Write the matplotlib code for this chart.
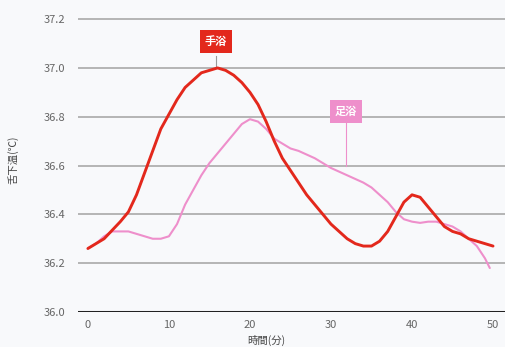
import numpy as np
import matplotlib
matplotlib.use("Agg")
import matplotlib.pyplot as plt

plt.rcParams['font.family'] = ['Noto Sans CJK JP', 'DejaVu Sans']

# 手浴 (hand bath)
hand_t = [0, 2, 4, 5, 6, 7, 8, 9, 10, 11, 12, 13, 14, 15, 16, 17, 18, 19, 20,
          21, 22, 23, 24, 25, 26, 27, 28, 29, 30, 31, 32, 33, 34, 35, 36, 37,
          38, 39, 40, 41, 42, 43, 44, 45, 46, 47, 48, 49, 50]
hand_temp = [36.26, 36.30, 36.37, 36.41, 36.48, 36.57, 36.66, 36.75, 36.81,
             36.87, 36.92, 36.95, 36.98, 36.99, 37.00, 36.99, 36.97, 36.94,
             36.90, 36.85, 36.78, 36.70, 36.63, 36.58, 36.53, 36.48, 36.44,
             36.40, 36.36, 36.33, 36.30, 36.28, 36.27, 36.27, 36.29, 36.33,
             36.39, 36.45, 36.48, 36.47, 36.43, 36.39, 36.35, 36.33, 36.32,
             36.30, 36.29, 36.28, 36.27]

# 足浴 (foot bath)
foot_t = [0, 1, 2, 3, 4, 5, 6, 7, 8, 9, 10, 11, 12, 13, 14, 15, 16, 17, 18,
          19, 20, 21, 22, 23, 24, 25, 26, 28, 30, 32, 34, 35, 36, 37, 38, 39,
          40, 41, 42, 43, 44, 45, 46, 47, 48, 49, 49.6]
foot_temp = [36.26, 36.28, 36.31, 36.33, 36.33, 36.33, 36.32, 36.31, 36.30,
             36.30, 36.31, 36.36, 36.44, 36.50, 36.56, 36.61, 36.65, 36.69,
             36.73, 36.77, 36.79, 36.78, 36.75, 36.71, 36.69, 36.67, 36.66,
             36.63, 36.59, 36.56, 36.53, 36.51, 36.48, 36.45, 36.41, 36.38,
             36.37, 36.365, 36.37, 36.37, 36.36, 36.35, 36.33, 36.30, 36.27,
             36.22, 36.18]

xticks = [0, 10, 20, 30, 40, 50]
yticks = [36.0, 36.2, 36.4, 36.6, 36.8, 37.0, 37.2]

RED = "#e3281c"
PINK = "#ee8fcb"

fig = plt.figure(figsize=(5.06, 3.47), dpi=100, facecolor="#f8f9fb")
ax = fig.add_axes([0.154, 0.101, 0.846, 0.872])
ax.set_facecolor("#f8f9fb")

for y in yticks[1:]:
    ax.axhline(y, color="#a9a9a9", lw=1.2, zorder=1)
ax.axhline(36.0, color="#222222", lw=2.2, zorder=2)

ax.plot(foot_t, foot_temp, color=PINK, lw=1.5, zorder=3,
        solid_joinstyle="round", solid_capstyle="round")
ax.plot(hand_t, hand_temp, color=RED, lw=2.1, zorder=4,
        solid_joinstyle="round", solid_capstyle="round")

ax.set_xlim(-1.23, 51.6)
ax.set_ylim(36.0, 37.24)
for s in ax.spines.values():
    s.set_visible(False)
ax.set_xticks(xticks)
ax.set_yticks(yticks)
ax.set_yticklabels([f"{v:.1f}" for v in yticks])
ax.tick_params(length=0, labelsize=8, colors="#666666")
ax.tick_params(axis="y", pad=9)
ax.tick_params(axis="x", pad=6)

# labels
ax.plot([15.8, 15.8], [37.0, 37.05], color="#999999", lw=0.8, zorder=2)
ax.text(15.8, 37.11, "手浴", color="white", fontsize=8, fontweight="bold",
        ha="center", va="center",
        bbox=dict(boxstyle="square,pad=0.45", fc=RED, ec="none"))
ax.plot([31.85, 31.85], [36.60, 36.80], color=PINK, lw=0.8, zorder=2)
ax.text(31.85, 36.82, "足浴", color="white", fontsize=8, fontweight="bold",
        ha="center", va="center",
        bbox=dict(boxstyle="square,pad=0.45", fc=PINK, ec="none"))

ax.text(22, 35.885, "時間(分)", fontsize=7.5, color="#444444",
        ha="center", va="center", clip_on=False)
fig.text(0.025, 0.54, "舌下温(℃)", fontsize=7.5, color="#444444",
         rotation=90, ha="center", va="center")

fig.savefig("out.png", dpi=100, facecolor=fig.get_facecolor())
